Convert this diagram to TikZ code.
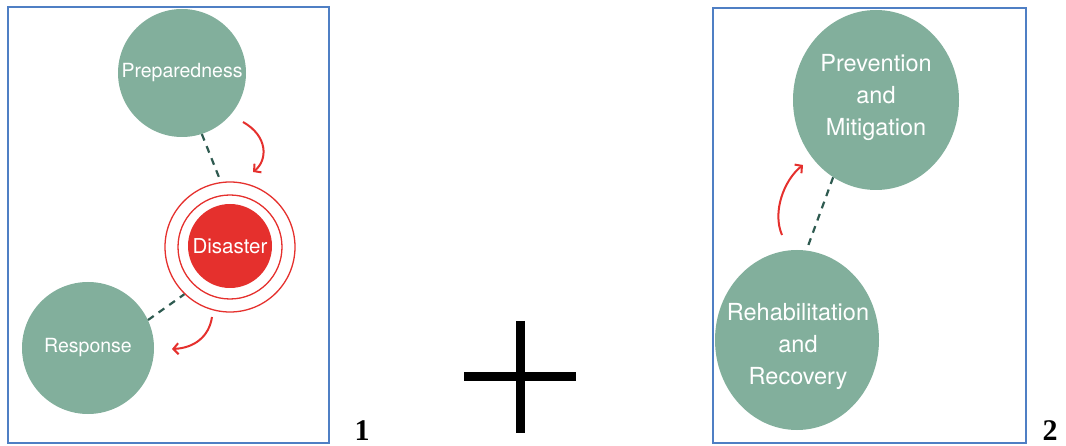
\documentclass[tikz,border=0pt]{standalone}
\usepackage{fontspec}
\setmainfont{TeX Gyre Heros}
\newfontfamily\numfont{Liberation Serif}
\usetikzlibrary{arrows.meta,shapes.geometric}
\definecolor{sage}{HTML}{82AF9C}
\definecolor{alarm}{HTML}{E5302D}
\definecolor{frameblue}{HTML}{4F7FC4}
\definecolor{dashteal}{HTML}{2E5A50}
\tikzset{
  phase/.style={circle, fill=sage, text=white, inner sep=0pt, align=center},
  phasebig/.style={ellipse, fill=sage, inner sep=0pt,
    minimum width=166pt, minimum height=180pt},
  bigtext/.style={text=white, align=center, inner sep=0pt,
    font=\fontsize{23.5}{32}\selectfont},
  ring/.style={circle, draw=alarm, line width=1.3pt, inner sep=0pt},
  link/.style={dashteal, line width=2.2pt, dash pattern=on 7pt off 6pt},
  cyclearrow/.style={alarm, line width=2pt, -{Straight Barb[length=5pt,width=11pt,line width=2pt]}},
  panel/.style={draw=frameblue, line width=1.6pt},
  numlabel/.style={font=\numfont\bfseries\fontsize{30}{30}\selectfont, inner sep=0pt}
}
\begin{document}
\begin{tikzpicture}[x=1pt,y=-1pt]
\useasboundingbox (0,0) rectangle (1066,446);
% panels
\draw[panel] (8,7) rectangle (329,443);
\draw[panel] (713,8) rectangle (1026,443);
% panel 1
\node[phase, minimum size=128pt, font=\fontsize{19.5}{22}\selectfont] (prep) at (182,73) {Preparedness};
\node[phase, minimum size=132pt, font=\fontsize{19.5}{22}\selectfont] (resp) at (88,348) {Response};
\node[ring, minimum size=130pt] (dis) at (230,247) {};
\node[ring, minimum size=104pt] (disring) at (230,247) {};
\node[circle, fill=alarm, text=white, inner sep=0pt, minimum size=84pt, font=\fontsize{20.5}{24}\selectfont] (discore) at (230,246) {Disaster};
\draw[link] (prep.288) -- (dis.98);
\draw[link] (resp.25) -- (dis.226);
\coordinate (a1s) at (243,122);
\coordinate (a1e) at (253,172);
\draw[cyclearrow] (a1s) .. controls (268,136) and (268,160) .. (a1e);
\coordinate (a2s) at (212,317);
\coordinate (a2e) at (172,349);
\draw[cyclearrow] (a2s) .. controls (209,337) and (194,348) .. (a2e);
% plus sign
\coordinate (pl) at (464,377);
\coordinate (pr) at (576,377);
\coordinate (pt) at (520,321);
\coordinate (pb) at (520,433);
\draw[line width=9pt] (pl) -- (pr);
\draw[line width=9pt] (pt) -- (pb);
% panel 2
\node[phasebig] (prev) at (876,100) {};
\node[bigtext] (prevtext) at (876,97) {Prevention\\and\\Mitigation};
\node[phasebig, minimum width=164pt] (rehab) at (797,340) {};
\node[bigtext] (rehabtext) at (798,346) {Rehabilitation\\and\\Recovery};
\draw[link] (prev.241) -- (rehab.84);
\coordinate (a3s) at (782,235);
\coordinate (a3e) at (803,165);
\draw[cyclearrow] (a3s) .. controls (772,212) and (784,180) .. (a3e);
% numbers
\node[numlabel, anchor=base] (n1) at (362,440) {1};
\node[numlabel, anchor=base] (n2) at (1050,440) {2};
\end{tikzpicture}
\end{document}
